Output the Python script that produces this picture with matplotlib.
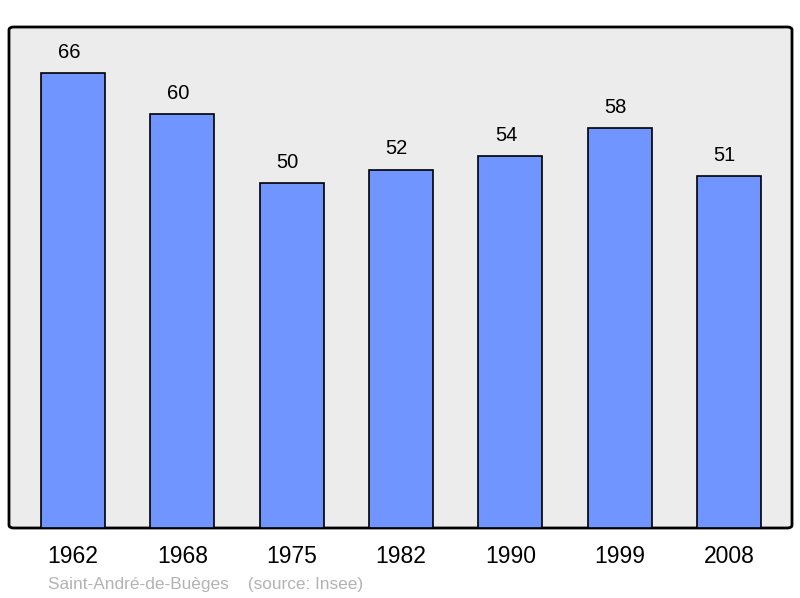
import matplotlib
matplotlib.use('Agg')
import matplotlib.pyplot as plt
from matplotlib.patches import FancyBboxPatch

years = ['1962', '1968', '1975', '1982', '1990', '1999', '2008']
population = [66, 60, 50, 52, 54, 58, 51]
commune = 'Saint-André-de-Buèges'
source = '(source: Insee)'

plt.rcParams['font.family'] = ['Liberation Sans', 'DejaVu Sans']

fig = plt.figure(figsize=(8, 5.98), dpi=100)
ax = fig.add_axes([9 / 800, 70 / 598, 783 / 800, 501 / 598])
ax.set_facecolor('none')

# rounded grey frame behind the bars
frame = FancyBboxPatch((0, 0), 1, 1, boxstyle='round,pad=0,rounding_size=0.006',
                       transform=ax.transAxes, facecolor='#ececec',
                       edgecolor='black', linewidth=2, zorder=0, clip_on=False)
ax.add_patch(frame)

x = range(len(years))
ax.bar(x, population, width=0.585, color='#7195ff', edgecolor='black',
       linewidth=1.2, zorder=2)
for i, v in zip(x, population):
    ax.annotate(str(v), (i, v), xytext=(-3, 8), textcoords='offset points',
                ha='center', va='bottom', fontsize=14.5)

ax.set_xlim(-0.585, 6.576)
ax.set_ylim(0, 72.67)
ax.set_xticks(list(x))
ax.set_xticklabels(years, fontsize=16.5)
ax.tick_params(axis='x', length=0, pad=12.5)
ax.set_yticks([])
for s in ax.spines.values():
    s.set_visible(False)

fig.text(48 / 800, 1 - 584 / 598, commune + '    ' + source, fontsize=12.4,
         color='#b3b3b3', va='center', ha='left')

fig.savefig('out.png', dpi=100)
